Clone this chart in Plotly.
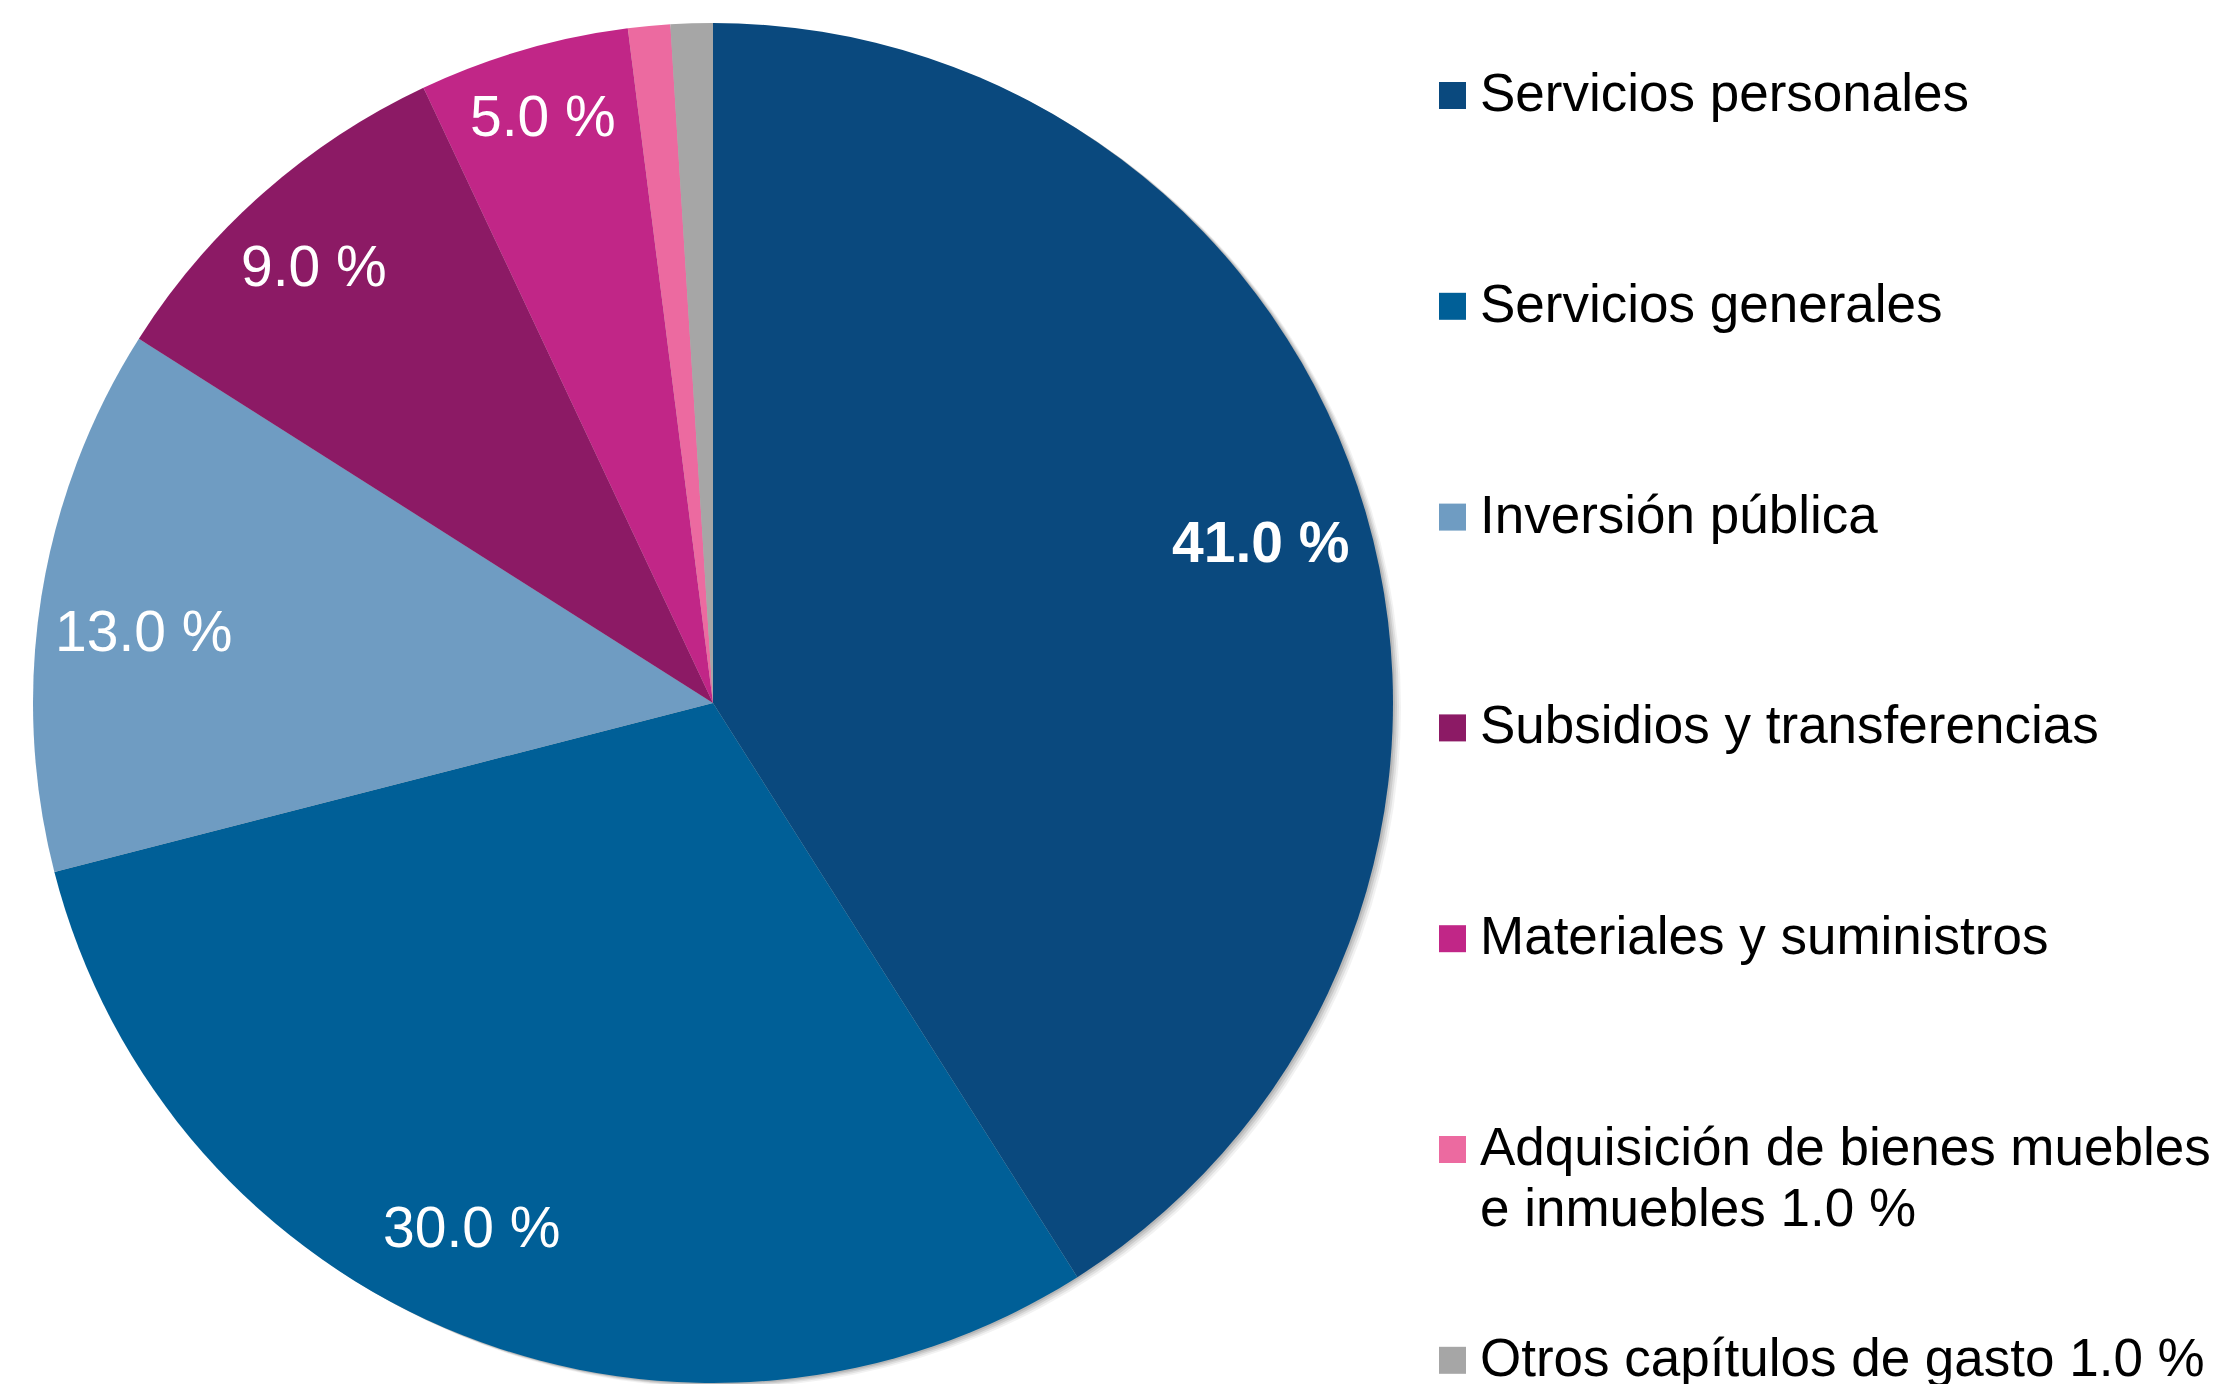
import math
import plotly.graph_objects as go

# ---- data ----
categories = [
    "Servicios personales",
    "Servicios generales",
    "Inversión pública",
    "Subsidios y transferencias",
    "Materiales y suministros",
    "Adquisición de bienes muebles<br>e inmuebles 1.0 %",
    "Otros capítulos de gasto 1.0 %",
]
values = [41.0, 30.0, 13.0, 9.0, 5.0, 1.0, 1.0]
colors = ["#0A497E", "#005F97", "#6F9CC2", "#8C1A65", "#C12687", "#EC6AA0", "#A6A6A6"]
show_label = [True, True, True, True, True, False, False]
bold_label = [True, False, False, False, False, False, False]

# ---- layout parameters ----
W, H = 2223, 1384
CX, CY, R = 713, 703, 680          # pie centre / radius in px (from top-left)
LABEL_R = [0.84, 0.849, 0.844, 0.870, 0.899, 0.9, 0.9]
LABEL_DA = [-0.2, 3.1, -1.8, -1.0, 0.05, 0.0, 0.0]   # small angular nudges (deg)
FONT = "Arial, Liberation Sans, sans-serif"


def px(x):
    return x / W


def py(y):
    return 1 - y / H


fig = go.Figure()
fig.add_trace(go.Pie(
    labels=categories,
    values=values,
    sort=False,
    direction="clockwise",
    rotation=0,
    marker=dict(colors=colors, line=dict(width=0)),
    textinfo="none",
    hoverinfo="label+percent",
    showlegend=False,
    domain=dict(x=[px(CX - R), px(CX + R)], y=[py(CY + R), py(CY - R)]),
))

# soft drop shadow behind the pie
shapes = []
for off, alpha in [(8, 0.05), (6, 0.07), (4, 0.09), (2, 0.10)]:
    shapes.append(dict(
        type="circle", xref="paper", yref="paper", layer="below",
        x0=px(CX - R + off), x1=px(CX + R + off),
        y0=py(CY + R + off * 0.6), y1=py(CY - R + off * 0.6),
        fillcolor=f"rgba(0,0,0,{alpha})", line=dict(width=0),
    ))

annotations = []
# slice percentage labels
total = sum(values)
cum = 0.0
for i, v in enumerate(values):
    mid = (cum + v / 2) / total * 2 * math.pi + math.radians(LABEL_DA[i])
    cum += v
    if not show_label[i]:
        continue
    r = R * LABEL_R[i]
    x = CX + r * math.sin(mid)
    y = CY - r * math.cos(mid)
    txt = f"{v:.1f} %"
    if bold_label[i]:
        txt = f"<b>{txt}</b>"
    annotations.append(dict(
        x=px(x), y=py(y), xref="paper", yref="paper",
        text=txt, showarrow=False, xanchor="center", yanchor="middle",
        font=dict(family=FONT, size=57, color="white"),
    ))

# custom legend
LEG_SQ_X0, LEG_SQ = 1439, 27
LEG_TEXT_X = 1478
LEG_BASE0, LEG_STEP = 112, 210.8
LINE_H = 61
for i, (cat, col) in enumerate(zip(categories, colors)):
    base = LEG_BASE0 + i * LEG_STEP
    mc = base - 16.5
    shapes.append(dict(
        type="rect", xref="paper", yref="paper",
        x0=px(LEG_SQ_X0), x1=px(LEG_SQ_X0 + LEG_SQ),
        y0=py(mc + LEG_SQ / 2), y1=py(mc - LEG_SQ / 2),
        fillcolor=col, line=dict(width=0),
    ))
    for j, line in enumerate(cat.split("<br>")):
        annotations.append(dict(
            x=px(LEG_TEXT_X), y=py(base - 19.5 + j * LINE_H), xref="paper", yref="paper",
            text=line, showarrow=False, xanchor="left", yanchor="middle",
            font=dict(family=FONT, size=53, color="black"),
        ))

fig.update_layout(
    width=W, height=H,
    margin=dict(l=0, r=0, t=0, b=0),
    paper_bgcolor="white", plot_bgcolor="white",
    shapes=shapes, annotations=annotations,
    showlegend=False,
)

fig.write_html("out.html", config={"displayModeBar": False},
               post_script="document.body.style.margin='0px';")
